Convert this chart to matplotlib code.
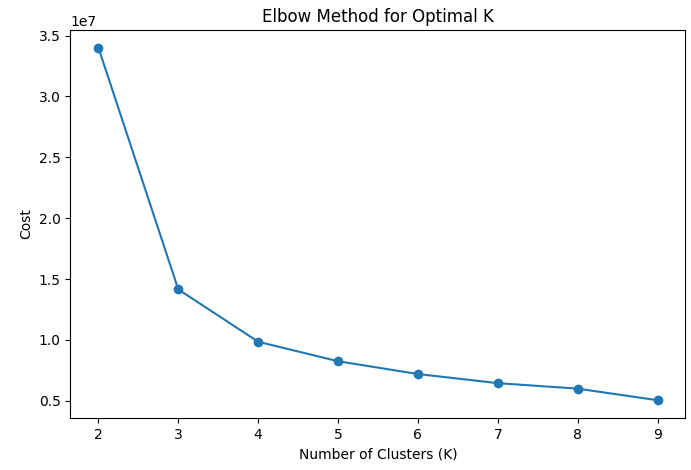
import matplotlib
matplotlib.use("Agg")
import matplotlib.pyplot as plt

k_values = [2, 3, 4, 5, 6, 7, 8, 9]
costs = [3.40e7, 1.415e7, 0.985e7, 0.825e7, 0.72e7, 0.645e7, 0.60e7, 0.505e7]

fig, ax = plt.subplots(figsize=(6.91, 4.70), dpi=100)
fig.subplots_adjust(left=0.102, right=0.992, top=0.936, bottom=0.111)
ax.plot(k_values, costs, marker="o")
ax.set_title("Elbow Method for Optimal K")
ax.set_xlabel("Number of Clusters (K)")
ax.set_ylabel("Cost")
fig.savefig("out.png", dpi=100)
